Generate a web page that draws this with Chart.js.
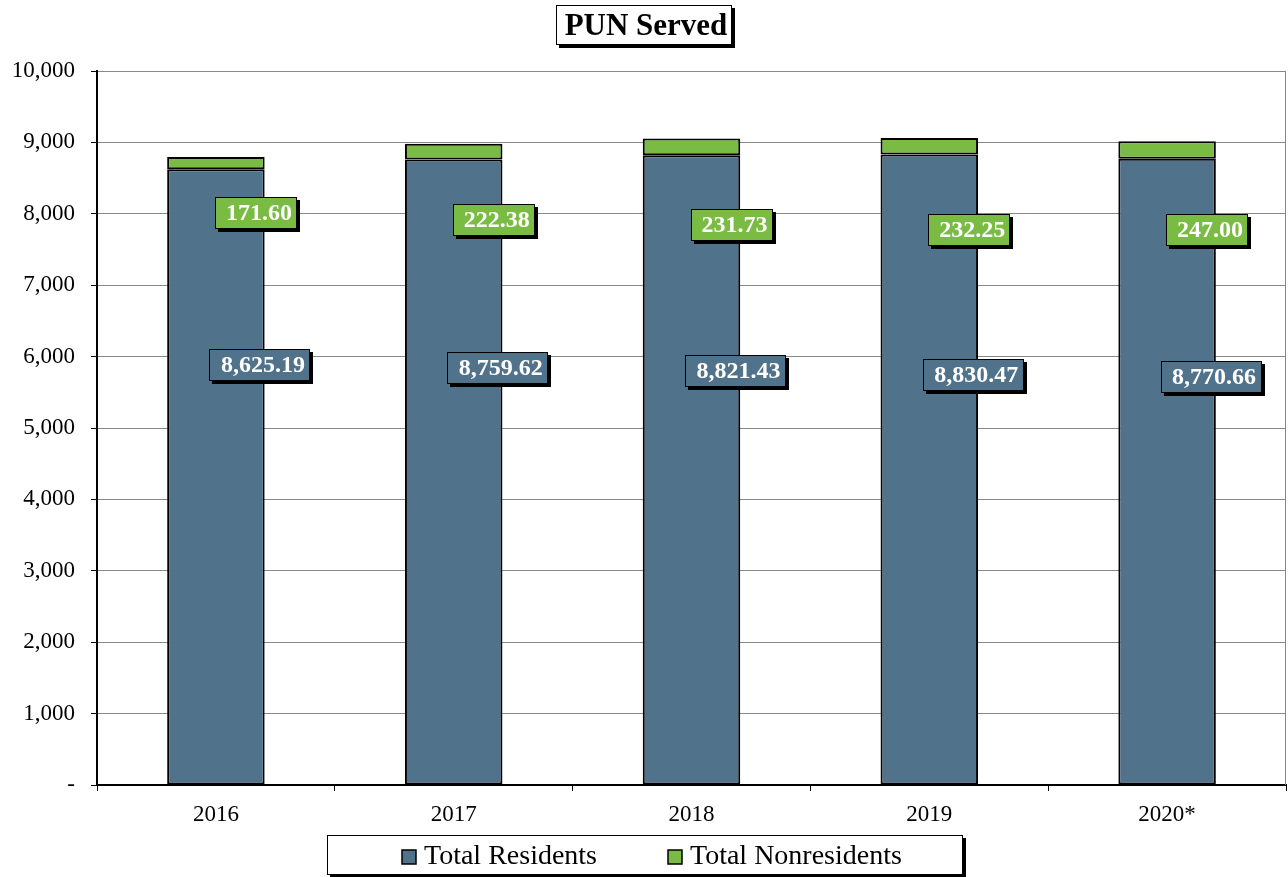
<!DOCTYPE html>
<html lang="en">
<head>
    <meta charset="UTF-8">
    <title>PUN Served</title>
    <script src="https://cdn.jsdelivr.net/npm/chart.js"></script>
    <style>
        body { margin: 0; background: #fff; }
    </style>
</head>
<body>

<canvas id="punChart" width="1288" height="877"></canvas>

<script type="text/javascript">
    // Chart data
    const years = ['2016', '2017', '2018', '2019', '2020*'];
    const residents = [8625.19, 8759.62, 8821.43, 8830.47, 8770.66];
    const nonresidents = [171.60, 222.38, 231.73, 232.25, 247.00];
    const yTicks = [0, 1000, 2000, 3000, 4000, 5000, 6000, 7000, 8000, 9000, 10000];

    const serif = '"Liberation Serif", "Times New Roman", serif';
    const blue = '#50728a';
    const green = '#79bb43';

    // Where the value boxes sit (in axis units), they were dragged by hand
    const labelSpots = {
        residents: [5880, 5840, 5800, 5745, 5715],
        nonresidents: [8010, 7915, 7845, 7775, 7775]
    };

    // Box with a dark drop shadow, used for title, legend and value labels
    function shadowBox(ctx, x, y, w, h, fill, shadow) {
        ctx.fillStyle = '#000';
        ctx.fillRect(x + shadow, y + shadow, w, h);
        ctx.fillStyle = fill;
        ctx.fillRect(x, y, w, h);
        ctx.strokeStyle = '#000';
        ctx.lineWidth = 1;
        ctx.strokeRect(x + 0.5, y + 0.5, w - 1, h - 1);
    }

    const decorPlugin = {
        id: 'decor',
        afterDraw(chart) {
            const ctx = chart.ctx;
            const area = chart.chartArea;
            const y = chart.scales.y;

            // right edge of the plot area
            ctx.save();
            ctx.strokeStyle = '#888';
            ctx.lineWidth = 1;
            ctx.beginPath();
            ctx.moveTo(area.right - 0.5, area.top);
            ctx.lineTo(area.right - 0.5, area.bottom);
            ctx.stroke();

            // value labels
            ctx.font = 'bold 24px ' + serif;
            ctx.textAlign = 'center';
            ctx.textBaseline = 'middle';
            const groups = [
                { ds: 0, spots: labelSpots.residents, fill: blue, w: 101, dx: 44 },
                { ds: 1, spots: labelSpots.nonresidents, fill: green, w: 82, dx: 40 }
            ];
            groups.forEach(g => {
                const meta = chart.getDatasetMeta(g.ds);
                const data = chart.data.datasets[g.ds].data;
                meta.data.forEach((bar, i) => {
                    const cx = bar.x + g.dx;
                    const cy = y.getPixelForValue(g.spots[i]);
                    shadowBox(ctx, Math.round(cx - g.w / 2), Math.round(cy - 16), g.w, 32, g.fill, 3);
                    ctx.fillStyle = '#fff';
                    ctx.fillText(data[i].toLocaleString('en-US', {
                        minimumFractionDigits: 2, maximumFractionDigits: 2
                    }), cx + 3, cy + 1);
                });
            });

            // title
            shadowBox(ctx, 556, 5, 176, 40, '#fff', 3);
            ctx.fillStyle = '#000';
            ctx.font = 'bold 31px ' + serif;
            ctx.fillText('PUN Served', 646, 27);

            // legend
            shadowBox(ctx, 327, 835, 636, 40, '#fff', 3);
            ctx.font = '28px ' + serif;
            ctx.textAlign = 'left';
            const items = [
                { text: chart.data.datasets[0].label, color: blue, x: 402 },
                { text: chart.data.datasets[1].label, color: green, x: 668 }
            ];
            items.forEach(it => {
                ctx.fillStyle = it.color;
                ctx.fillRect(it.x, 850, 14, 14);
                ctx.strokeStyle = '#000';
                ctx.lineWidth = 1.5;
                ctx.strokeRect(it.x, 850, 14, 14);
                ctx.fillStyle = '#000';
                ctx.fillText(it.text, it.x + 22, 857);
            });
            ctx.restore();
        }
    };

    const ctx = document.getElementById('punChart').getContext('2d');
    new Chart(ctx, {
        type: 'bar',
        data: {
            labels: years,
            datasets: [{
                label: 'Total Residents',
                data: residents,
                backgroundColor: blue,
                borderColor: '#000',
                borderWidth: 2,
                borderSkipped: false,
                barPercentage: 0.41,
                categoryPercentage: 1
            }, {
                label: 'Total Nonresidents',
                data: nonresidents,
                backgroundColor: green,
                borderColor: '#000',
                borderWidth: 2,
                borderSkipped: false,
                barPercentage: 0.41,
                categoryPercentage: 1
            }]
        },
        options: {
            responsive: false,
            animation: false,
            layout: {
                padding: { top: 71, right: 2, bottom: 0, left: 0 }
            },
            plugins: {
                legend: { display: false },
                title: { display: false },
                tooltip: { enabled: false }
            },
            scales: {
                x: {
                    stacked: true,
                    afterFit(scale) { scale.height = 92; },
                    grid: {
                        offset: true,
                        drawOnChartArea: false,
                        tickLength: 6,
                        color: '#000'
                    },
                    border: { color: '#000', width: 2 },
                    ticks: {
                        color: '#000',
                        padding: 10,
                        font: { family: serif, size: 23 }
                    }
                },
                y: {
                    stacked: true,
                    min: 0,
                    max: 10000,
                    afterFit(scale) { scale.width = 97; },
                    afterBuildTicks(scale) {
                        scale.ticks = yTicks.map(v => ({ value: v }));
                    },
                    grid: {
                        color: '#888',
                        tickColor: '#000',
                        tickLength: 6
                    },
                    border: { color: '#000', width: 2 },
                    ticks: {
                        color: '#000',
                        padding: 16,
                        font: { family: serif, size: 23 },
                        callback: v => v === 0 ? '-' : v.toLocaleString('en-US')
                    }
                }
            }
        },
        plugins: [decorPlugin]
    });
</script>

</body>
</html>
